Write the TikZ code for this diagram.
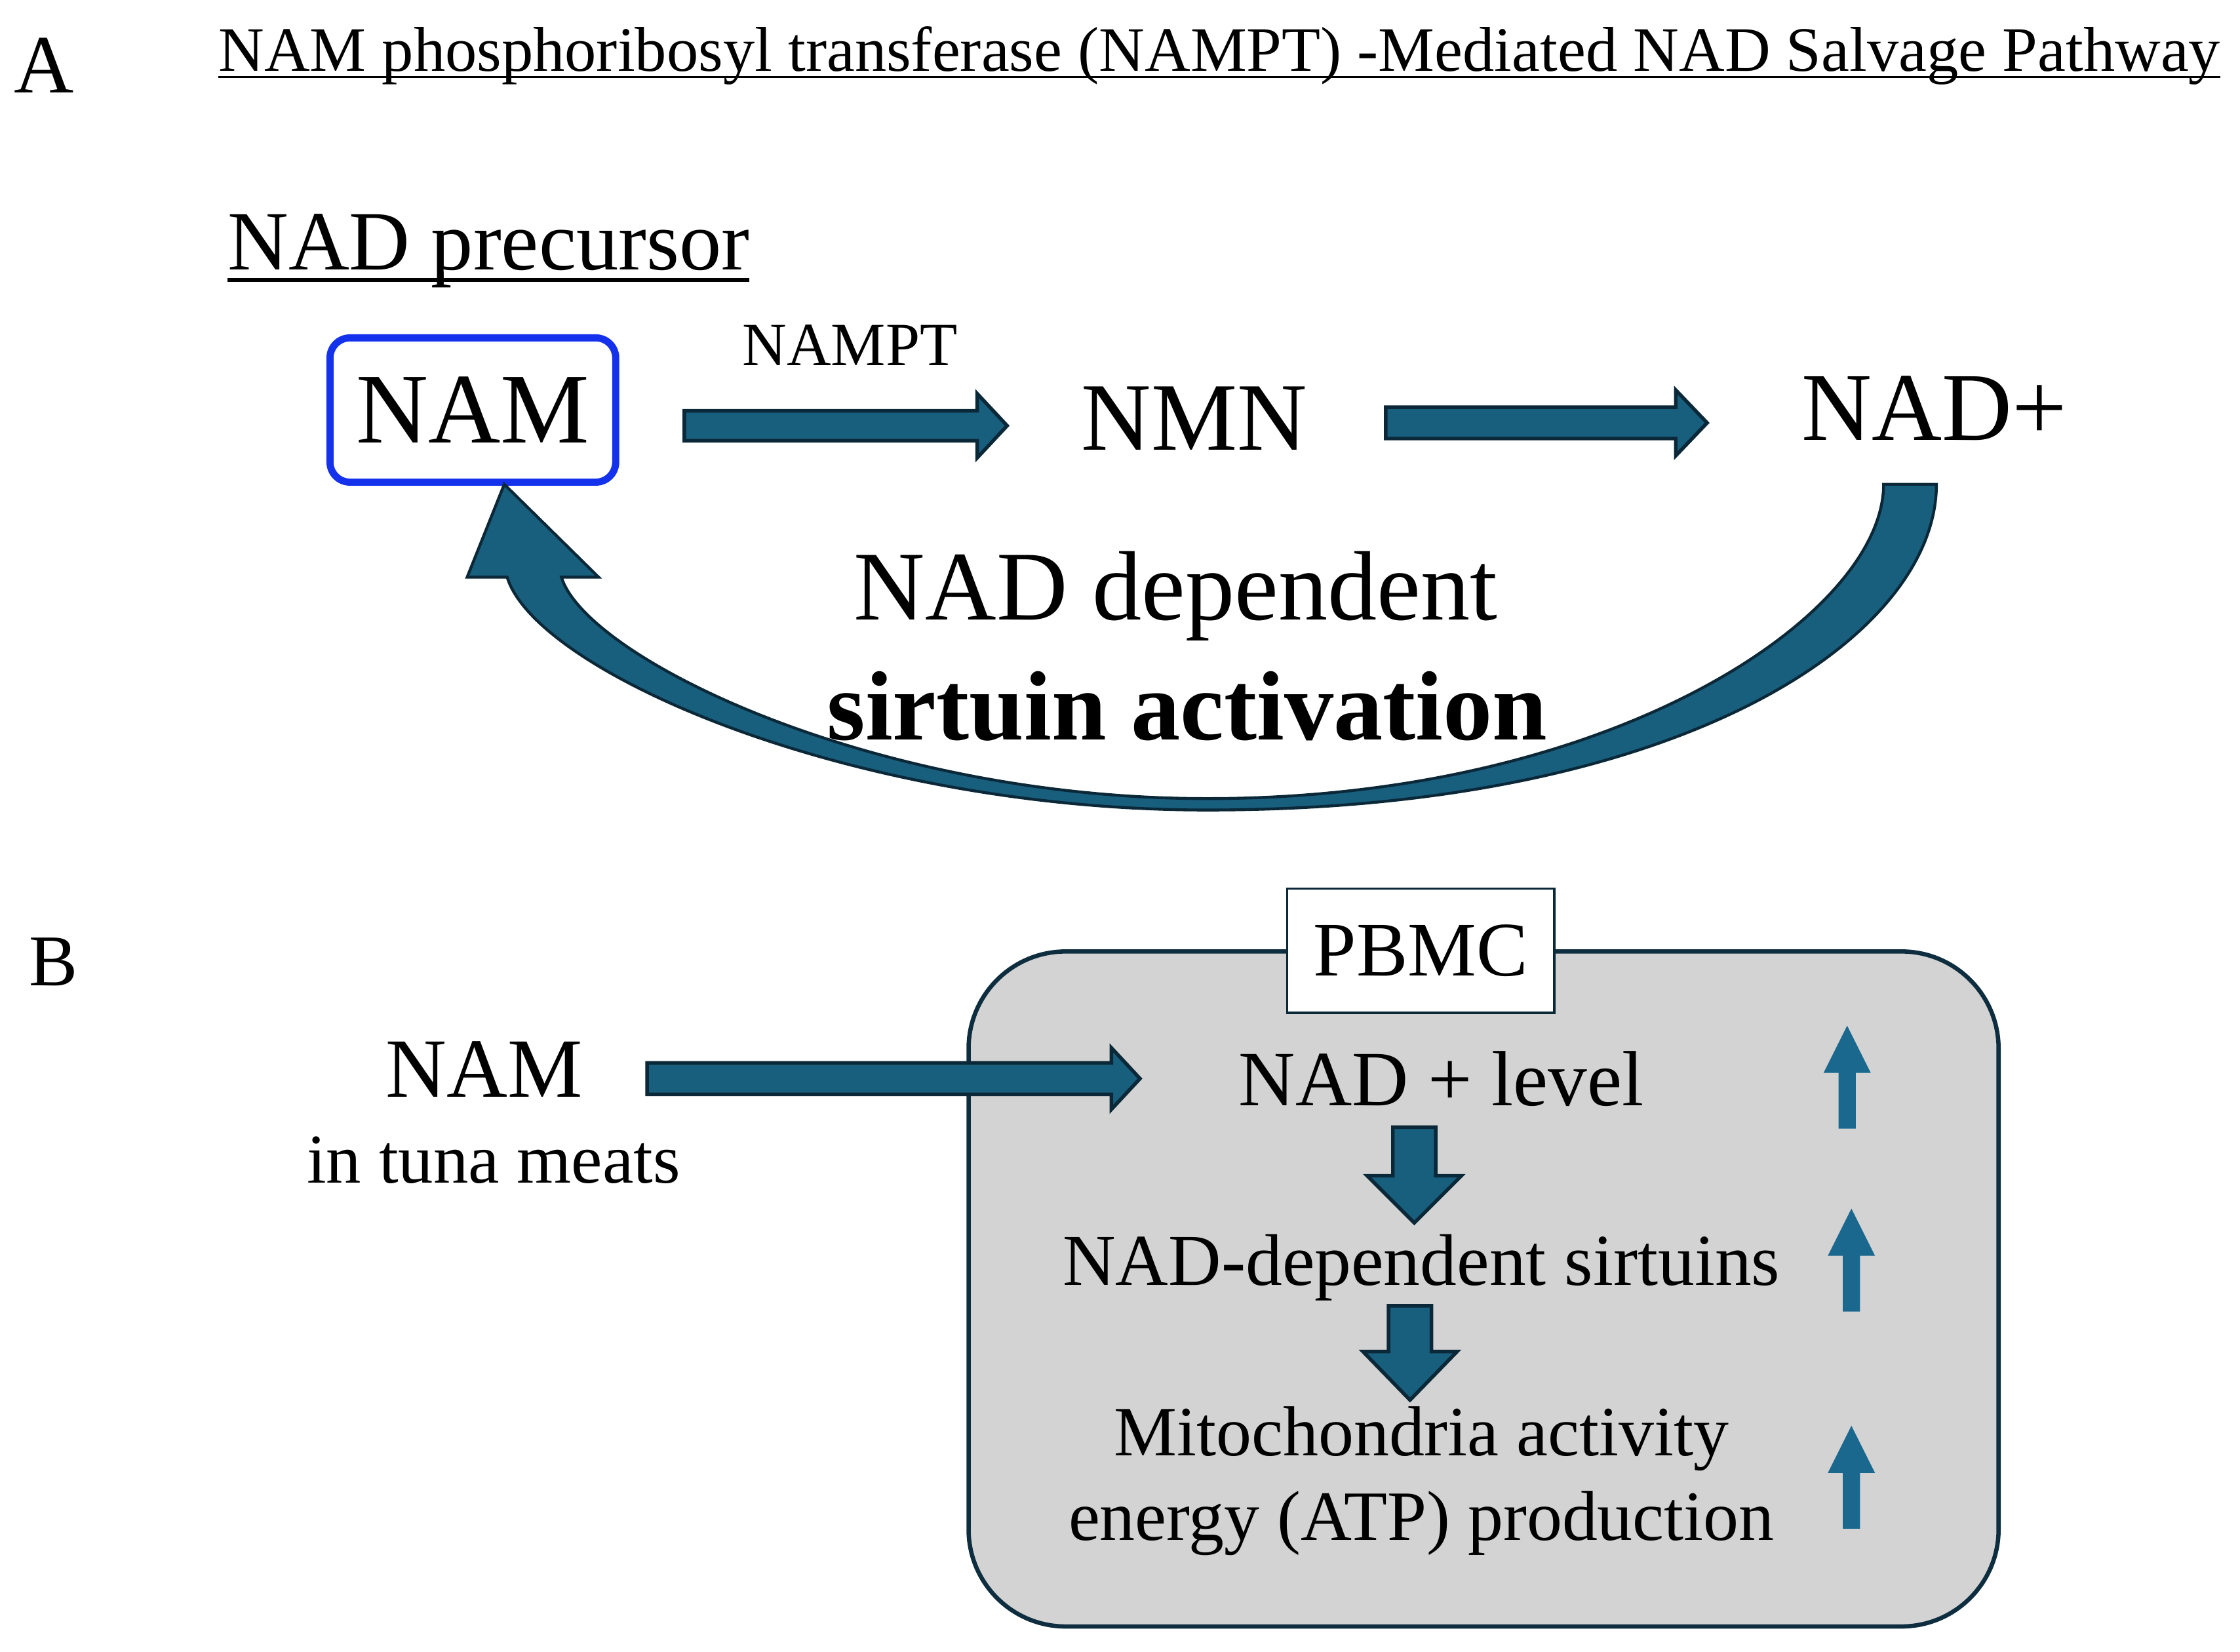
\documentclass[tikz,border=0pt]{standalone}
\usepackage{fontspec}
\setmainfont{Liberation Serif}
\usetikzlibrary{calc}

\definecolor{arrowfill}{RGB}{24,94,125}
\definecolor{arrowline}{RGB}{10,40,55}
\definecolor{upfill}{RGB}{26,104,142}
\definecolor{namblue}{RGB}{20,50,235}
\definecolor{cellfill}{RGB}{211,211,211}
\definecolor{cellline}{RGB}{14,46,64}

\newcommand{\fs}[1]{\fontsize{#1}{1.2\dimexpr#1pt\relax}\selectfont}
% block arrow: [style]{from}{to}{shaft half width}{head half width}{head length}
\newcommand{\fatarrow}[6][fatarrow]{%
  \coordinate (fa-base) at ($(#3)!#6!(#2)$);
  \filldraw[#1] ($(#2)!#4!90:(#3)$) -- ($(fa-base)!#4!90:(#3)$)
    -- ($(fa-base)!#5!90:(#3)$) -- (#3) -- ($(fa-base)!#5!-90:(#3)$)
    -- ($(fa-base)!#4!-90:(#3)$) -- ($(#2)!#4!-90:(#3)$) -- cycle;}

\begin{document}
\begin{tikzpicture}[
        x=1pt, y=-1pt,
        txt/.style={inner sep=0pt, outer sep=0pt, anchor=base},
        fatarrow/.style={fill=arrowfill, draw=arrowline, line width=2.5pt,
            line join=miter},
        uparrow/.style={fill=upfill, draw=none},
        nambox/.style={draw=namblue, line width=5pt, rounded corners=14pt,
            minimum width=200pt, minimum height=101pt, inner sep=0pt},
        labelbox/.style={draw=arrowline, fill=white, line width=1.5pt,
            minimum width=187pt, minimum height=87pt, inner sep=0pt}
    ]
        \useasboundingbox (0, 0) rectangle (1568, 1156);

        % panel A
        \node[txt] (labA) at (31, 65) {\fs{58}A};
        \node[txt, anchor=base west] (title) at (153, 50)
            {\fs{44.3}NAM phosphoribosyl transferase (NAMPT) -Mediated NAD Salvage Pathway};
        \draw[line width=1.5pt] ([yshift=-4pt]title.base west) -- ([yshift=-4pt]title.base east);
        \node[txt] (prec) at (342, 189) {\fs{59}NAD precursor};
        \draw[line width=3pt] ([yshift=-7pt]prec.base west) -- ([yshift=-7pt]prec.base east);

        \node[nambox] (nam) at (331, 287) {\fs{70}NAM};
        \node[txt] (nampt) at (595, 256) {\fs{43}NAMPT};
        \node[txt] (nmn) at (836, 315) {\fs{67.7}NMN};
        \node[txt] (nad) at (1354, 308) {\fs{68}NAD+};

        \coordinate (a1from) at (479, 298);
        \coordinate (a1to) at (705, 298);
        \coordinate (a2from) at (970, 296);
        \coordinate (a2to) at (1195, 296);
        \fatarrow{a1from}{a1to}{10.5pt}{22.5pt}{21pt}
        \fatarrow{a2from}{a2to}{11pt}{23pt}{22pt}

        % recycling arrow from NAD+ back to NAM
        \filldraw[fatarrow, line width=2pt]
            (1355.5, 339) .. controls (1355.5, 445) and (1180, 567) .. (845, 567)
            .. controls (595, 567) and (375, 470) .. (355, 404)
            -- (327, 404) -- (353, 339) -- (419, 404) -- (393, 404)
            .. controls (410, 460) and (610, 559) .. (845, 559)
            .. controls (1130, 559) and (1318.5, 430) .. (1318.5, 339)
            -- cycle;

        \node[txt] (dep) at (823, 434) {\fs{69}NAD dependent};
        \node[txt] (sirt) at (831, 518) {\fs{69}\bfseries sirtuin activation};

        % panel B
        \node[txt] (labB) at (37.5, 690) {\fs{51}B};
        \draw[fill=cellfill, draw=cellline, line width=3pt, rounded corners=68pt]
            (678, 666) rectangle (1399, 1138.5);
        \node[labelbox] (pbmc) at (994.5, 665.5) {\fs{54}PBMC};

        \node[txt] (namB) at (339, 768) {\fs{59}NAM};
        \node[txt] (tuna) at (345.5, 828) {\fs{49}in tuna meats};
        \node[txt] (level) at (1009, 774) {\fs{54.8}NAD + level};
        \node[txt] (sirtB) at (995, 899.6) {\fs{51.2}NAD-dependent sirtuins};
        \node[txt, align=center, font=\fontsize{49.5}{59}\selectfont] (mito) at (995, 1078)
            {Mitochondria activity\\energy (ATP) production};

        \coordinate (bfrom) at (453, 755);
        \coordinate (bto) at (798, 755);
        \fatarrow{bfrom}{bto}{11pt}{21.5pt}{20pt}
        \coordinate (d1from) at (990, 789);
        \coordinate (d1to) at (990, 856);
        \fatarrow{d1from}{d1to}{15pt}{33pt}{33pt}
        \coordinate (d2from) at (987, 914);
        \coordinate (d2to) at (987, 980);
        \fatarrow{d2from}{d2to}{15pt}{33pt}{34pt}

        % increase marks
        \coordinate (u1from) at (1293, 790);
        \coordinate (u1to) at (1293, 718);
        \coordinate (u2from) at (1296, 918);
        \coordinate (u2to) at (1296, 846);
        \coordinate (u3from) at (1296, 1070);
        \coordinate (u3to) at (1296, 998);
        \fatarrow[uparrow]{u1from}{u1to}{6pt}{16.5pt}{33pt}
        \fatarrow[uparrow]{u2from}{u2to}{6pt}{16.5pt}{33pt}
        \fatarrow[uparrow]{u3from}{u3to}{6pt}{16.5pt}{33pt}
    \end{tikzpicture}
\end{document}
